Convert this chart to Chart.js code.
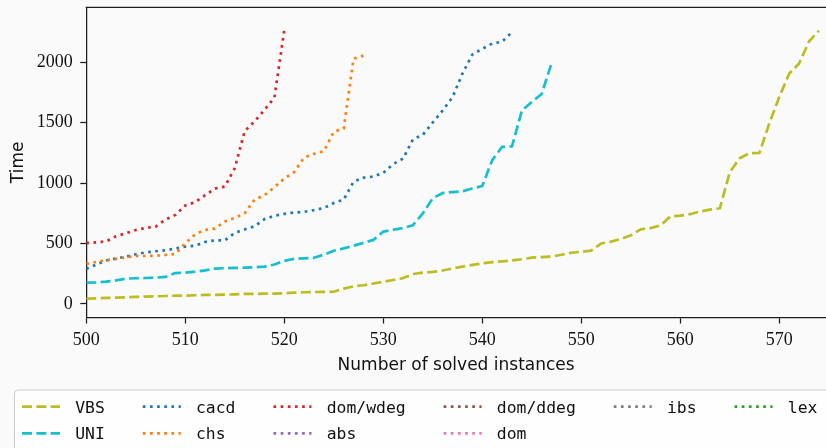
<!DOCTYPE html>
<html>
<head>
<meta charset="utf-8">
<script src="https://cdn.jsdelivr.net/npm/chart.js@4.4.0/dist/chart.umd.min.js"></script>
<style>
  html, body { margin: 0; padding: 0; background: #fafafa; }
  #wrap { width: 826px; height: 448px; overflow: hidden; }
  canvas { display: block; }
</style>
</head>
<body>
<div id="wrap"><canvas id="cactus" width="826" height="448"></canvas></div>
<script>
// Number of solved instances at which every series starts
const firstSolved = 500;

// Solver names, in legend order
const solverNames = ['VBS', 'UNI', 'cacd', 'chs', 'dom/wdeg', 'abs', 'dom/ddeg', 'dom', 'ibs', 'lex'];

// Cumulative time needed to solve the n-th instance (n = firstSolved, firstSolved+1, ...)
const vbsTimes = [
  44, 47, 50, 52, 55, 58, 61, 63, 66, 69, 69, 72, 75, 75, 77, 80, 83, 83, 86, 86,
  88, 94, 97, 99, 100, 101, 127, 146, 155, 169, 184, 198, 214, 248, 259, 265, 277, 294, 309, 323,
  336, 346, 353, 360, 370, 384, 388, 392,
  407, 424, 432, 442, 500, 516, 538, 568, 618, 628, 650, 724, 731, 743, 765, 781, 792,
  1090, 1206, 1248, 1250, 1496, 1713, 1905, 1990, 2172, 2262
];
const uniTimes = [
  177, 179, 185, 195, 210, 213, 215, 218, 224, 256, 260, 268, 278, 292, 296, 298, 300, 303, 309, 327,
  357, 374, 378, 382, 408, 440, 460, 482, 506, 530, 599, 614, 629, 652, 750, 875, 918, 926, 933, 955,
  976, 1190, 1300, 1304, 1600, 1672, 1738, 1993
];
const cacdTimes = [
  290, 326, 360, 376, 392, 411, 427, 436, 445, 458, 475, 482, 513, 527, 527, 588, 617, 643, 702, 730,
  745, 757, 762, 777, 794, 835, 864, 1012, 1045, 1054, 1085, 1158, 1203, 1363, 1400, 1502, 1602, 1712,
  1907, 2064, 2112, 2155, 2170, 2250
];
const chsTimes = [
  331, 348, 362, 373, 386, 397, 397, 400, 406, 414, 502, 577, 613, 624, 682, 712, 751, 864, 900, 966,
  1038, 1092, 1212, 1242, 1265, 1425, 1452, 2030, 2055
];
const domWdegTimes = [
  503, 510, 517, 560, 585, 612, 629, 640, 698, 737, 815, 843, 900, 955, 972, 1125, 1430, 1512, 1605, 1708,
  2267
];
// These solvers never reach the visible range
const absTimes = [];
const domDdegTimes = [];
const domTimes = [];
const ibsTimes = [];
const lexTimes = [];

const xTickValues = [500, 510, 520, 530, 540, 550, 560, 570];
const yTickValues = [0, 500, 1000, 1500, 2000];

// Line styles (tab10 colours, dashed / dotted patterns)
const LW = 2.7;
const DASHED = [3.7 * LW, 1.6 * LW];
const DOTTED = [1 * LW, 1.65 * LW];
const styles = {
  'VBS':      { color: '#bcbd22', dash: DASHED },
  'UNI':      { color: '#17becf', dash: DASHED },
  'cacd':     { color: '#1f77b4', dash: DOTTED },
  'chs':      { color: '#ff7f0e', dash: DOTTED },
  'dom/wdeg': { color: '#d62728', dash: DOTTED },
  'abs':      { color: '#9467bd', dash: DOTTED },
  'dom/ddeg': { color: '#8c564b', dash: DOTTED },
  'dom':      { color: '#e377c2', dash: DOTTED },
  'ibs':      { color: '#7f7f7f', dash: DOTTED },
  'lex':      { color: '#2ca02c', dash: DOTTED }
};
const timesByName = {
  'VBS': vbsTimes, 'UNI': uniTimes, 'cacd': cacdTimes, 'chs': chsTimes, 'dom/wdeg': domWdegTimes,
  'abs': absTimes, 'dom/ddeg': domDdegTimes, 'dom': domTimes, 'ibs': ibsTimes, 'lex': lexTimes
};

const datasets = solverNames.map((name, i) => ({
  label: name,
  data: timesByName[name].map((t, k) => ({ x: firstSolved + k, y: t })),
  borderColor: styles[name].color,
  backgroundColor: styles[name].color,
  borderDash: styles[name].dash,
  borderWidth: LW,
  borderCapStyle: 'butt',
  borderJoinStyle: 'round',
  pointRadius: 0,
  tension: 0,
  fill: false,
  order: -i
}));

const AXIS_COLOR = '#1c1c1c';
const TEXT_COLOR = '#111111';

// Paint the figure background
const backgroundPlugin = {
  id: 'figureBackground',
  beforeDraw(chart) {
    const ctx = chart.ctx;
    ctx.save();
    ctx.fillStyle = '#fafafa';
    ctx.fillRect(0, 0, chart.width, chart.height);
    ctx.restore();
  }
};

// Top spine of the axes frame
const topSpinePlugin = {
  id: 'topSpine',
  afterDatasetsDraw(chart) {
    const { ctx, chartArea } = chart;
    ctx.save();
    ctx.strokeStyle = AXIS_COLOR;
    ctx.lineWidth = 1.25;
    ctx.beginPath();
    ctx.moveTo(chartArea.left - 0.6, chartArea.top);
    ctx.lineTo(chartArea.right + 1, chartArea.top);
    ctx.stroke();
    ctx.restore();
  }
};

// Legend laid out in six columns, filled column by column
const gridLegendPlugin = {
  id: 'gridLegend',
  afterDraw(chart) {
    const ctx = chart.ctx;
    const f = 19;                    // legend font size unit
    const ncol = 6;
    const boxLeft = 14.4, boxTop = 390, boxBottom = 455, boxRight = 860;
    const rowY = [406.7, 433.3];
    const items = chart.data.datasets;

    ctx.save();
    // frame
    const r = 4;
    ctx.beginPath();
    ctx.moveTo(boxLeft + r, boxTop);
    ctx.lineTo(boxRight - r, boxTop);
    ctx.arcTo(boxRight, boxTop, boxRight, boxTop + r, r);
    ctx.lineTo(boxRight, boxBottom);
    ctx.lineTo(boxLeft, boxBottom);
    ctx.lineTo(boxLeft, boxTop + r);
    ctx.arcTo(boxLeft, boxTop, boxLeft + r, boxTop, r);
    ctx.closePath();
    ctx.fillStyle = 'rgba(255,255,255,0.8)';
    ctx.fill();
    ctx.strokeStyle = '#cccccc';
    ctx.lineWidth = 1;
    ctx.stroke();

    // distribute entries over the columns
    const nBase = Math.floor(items.length / ncol);
    const nLarge = items.length % ncol;
    const columns = [];
    let idx = 0;
    for (let c = 0; c < ncol; c++) {
      const n = nBase + (c < nLarge ? 1 : 0);
      columns.push(items.slice(idx, idx + n));
      idx += n;
    }

    ctx.font = '16.4px "DejaVu Sans Mono", monospace';
    ctx.textBaseline = 'alphabetic';
    let x = boxLeft + 0.4 * f;
    columns.forEach(col => {
      let maxW = 0;
      col.forEach((ds, row) => {
        const y = rowY[row];
        ctx.save();
        ctx.strokeStyle = ds.borderColor;
        ctx.lineWidth = LW;
        ctx.lineCap = 'butt';
        ctx.setLineDash(ds.borderDash);
        ctx.beginPath();
        ctx.moveTo(x, y);
        ctx.lineTo(x + 2 * f, y);
        ctx.stroke();
        ctx.restore();
        ctx.fillStyle = TEXT_COLOR;
        ctx.fillText(ds.label, x + 2.8 * f, y + 6);
        maxW = Math.max(maxW, ctx.measureText(ds.label).width);
      });
      x += 2.8 * f + maxW + 2 * f;
    });
    ctx.restore();
  }
};

new Chart(document.getElementById('cactus'), {
  type: 'line',
  data: { datasets },
  plugins: [backgroundPlugin, topSpinePlugin, gridLegendPlugin],
  options: {
    responsive: false,
    animation: false,
    devicePixelRatio: 1,
    layout: { padding: { top: 7.3, left: 0, right: 0, bottom: 70.5 } },
    plugins: {
      legend: { display: false },
      tooltip: { enabled: false }
    },
    scales: {
      x: {
        type: 'linear',
        min: 500,
        max: 574.72,
        afterBuildTicks: s => { s.ticks = xTickValues.map(v => ({ value: v })); },
        afterFit: s => { s.height = 60; s.paddingLeft = 0; s.paddingRight = 0; },
        grid: { drawOnChartArea: false, drawTicks: true, tickLength: 6, tickWidth: 1.25, tickColor: AXIS_COLOR },
        border: { display: true, color: AXIS_COLOR, width: 1.25 },
        ticks: {
          font: { family: '"Liberation Serif", serif', size: 18 },
          color: TEXT_COLOR, padding: 5.7, maxRotation: 0, autoSkip: false,
          callback: v => String(v)
        },
        title: {
          display: true, text: 'Number of solved instances',
          font: { family: '"DejaVu Sans", sans-serif', size: 17 },
          color: TEXT_COLOR, padding: { top: 0, bottom: 2.1 }
        }
      },
      y: {
        type: 'linear',
        min: -112,
        max: 2455,
        afterBuildTicks: s => { s.ticks = yTickValues.map(v => ({ value: v })); },
        afterFit: s => { s.width = 86.3; s.paddingTop = 0; s.paddingBottom = 0; },
        grid: { drawOnChartArea: false, drawTicks: true, tickLength: 6, tickWidth: 1.25, tickColor: AXIS_COLOR },
        border: { display: true, color: AXIS_COLOR, width: 1.25 },
        ticks: {
          font: { family: '"Liberation Serif", serif', size: 18 },
          color: TEXT_COLOR, padding: 7.6, autoSkip: false,
          callback: v => String(v)
        },
        title: {
          display: true, text: 'Time',
          font: { family: '"DejaVu Sans", sans-serif', size: 17 },
          color: TEXT_COLOR, padding: { top: 8.8, bottom: 0 }
        }
      }
    }
  }
});
</script>
</body>
</html>
